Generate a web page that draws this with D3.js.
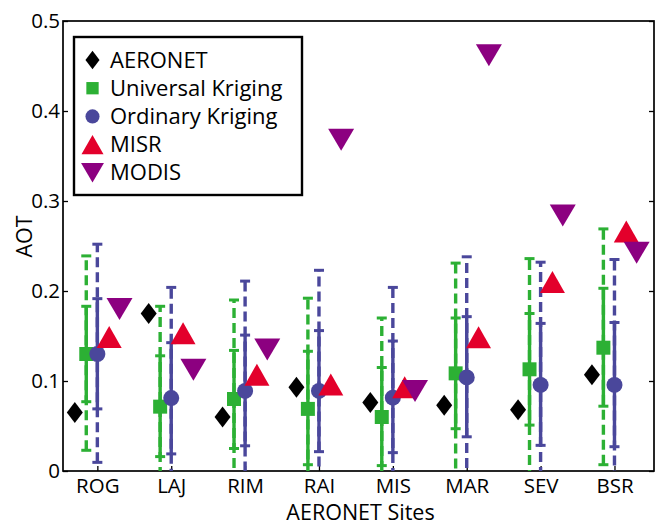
<!DOCTYPE html>
<html>
<head>
<meta charset="utf-8">
<script src="https://cdn.jsdelivr.net/npm/d3@7/dist/d3.min.js"></script>
<style>
  html, body { margin: 0; padding: 0; background: #ffffff; }
  svg { display: block; font-family: "Open Sans", "DejaVu Sans", sans-serif; }
</style>
</head>
<body>
<div id="chart"></div>
<script>
// AERONET sites along the x axis
const sites = ["ROG", "LAJ", "RIM", "RAI", "MIS", "MAR", "SEV", "BSR"];

// Ground-truth AOT at each site
const aeronet = [0.065, 0.175, 0.060, 0.093, 0.076, 0.073, 0.068, 0.107];

// Universal Kriging: estimate, inner (solid) and outer (dashed) intervals
const ukMean    = [0.130, 0.0715, 0.080, 0.069, 0.060, 0.1085, 0.113, 0.137];
const ukInnerLo = [0.077, 0.016, 0.025, 0.007, 0.006, 0.047, 0.051, 0.072];
const ukInnerHi = [0.183, 0.128, 0.134, 0.133, 0.115, 0.170, 0.175, 0.203];
const ukOuterLo = [0.023, -0.040, -0.030, -0.054, -0.050, -0.014, -0.010, 0.007];
const ukOuterHi = [0.239, 0.183, 0.190, 0.192, 0.170, 0.231, 0.236, 0.269];

// Ordinary Kriging: estimate, inner (solid) and outer (dashed) intervals
const okMean    = [0.130, 0.081, 0.089, 0.089, 0.0815, 0.104, 0.0956, 0.0956];
const okInnerLo = [0.069, 0.019, 0.028, 0.0215, 0.0204, 0.038, 0.0285, 0.027];
const okInnerHi = [0.1915, 0.1426, 0.151, 0.156, 0.1444, 0.1715, 0.164, 0.165];
const okOuterLo = [0.0096, -0.042, -0.034, -0.045, -0.041, -0.030, -0.040, -0.044];
const okOuterHi = [0.252, 0.204, 0.211, 0.223, 0.204, 0.238, 0.232, 0.235];

// Satellite retrievals
const misr  = [0.149, 0.153, 0.107, 0.096, 0.093, 0.1485, 0.210, 0.266];
const modis = [0.180, 0.1126, 0.135, 0.368, 0.089, 0.462, 0.284, 0.2426];

// Axis ticks
const yTickValues = [0, 0.1, 0.2, 0.3, 0.4, 0.5];
const yTickLabels = ["0", "0.1", "0.2", "0.3", "0.4", "0.5"];

const legendLabels = ["AERONET", "Universal Kriging", "Ordinary Kriging", "MISR", "MODIS"];

const COLORS = {
  aeronet: "#000000",
  uk: "#2cb034",
  ok: "#4a479b",
  misr: "#e3002b",
  modis: "#8c0080"
};

const width = 658, height = 529;
const plot = { left: 63, right: 654, top: 21, bottom: 471 };

const svg = d3.select("#chart").append("svg")
  .attr("width", width).attr("height", height);

const x = d3.scaleLinear().domain([0.535, 8.535]).range([plot.left, plot.right]);
const y = d3.scaleLinear().domain([0, 0.5]).range([plot.bottom, plot.top]);

svg.append("defs").append("clipPath").attr("id", "plotClip")
  .append("rect")
  .attr("x", plot.left).attr("y", plot.top)
  .attr("width", plot.right - plot.left).attr("height", plot.bottom - plot.top);

// Horizontal offsets (in category units) for each series within a site
const offset = { aeronet: -0.305, uk: -0.15, ok: 0, misr: 0.16, modis: 0.3 };

// ---- Axes ----
const tickFont = 20.5;
const yAxis = d3.axisLeft(y).tickValues(yTickValues)
  .tickFormat((d, i) => yTickLabels[i]).tickSize(-5).tickPadding(3);
const gy = svg.append("g").attr("transform", `translate(${plot.left},0)`).call(yAxis);
gy.select(".domain").remove();
gy.selectAll("text").attr("font-size", tickFont).attr("fill", "#000")
  .attr("font-family", "'Open Sans', sans-serif");
gy.selectAll("line").attr("stroke", "#000").attr("stroke-width", 1.3);

const yAxisR = d3.axisRight(y).tickValues(yTickValues).tickFormat("").tickSize(-5);
const gyr = svg.append("g").attr("transform", `translate(${plot.right},0)`).call(yAxisR);
gyr.select(".domain").remove();
gyr.selectAll("line").attr("stroke", "#000").attr("stroke-width", 1.3);

const xAxis = d3.axisBottom(x).tickValues(d3.range(1, sites.length + 1))
  .tickFormat(i => sites[i - 1]).tickSize(-5).tickPadding(4);
const gx = svg.append("g").attr("transform", `translate(0,${plot.bottom})`).call(xAxis);
gx.select(".domain").remove();
gx.selectAll("line").attr("stroke", "#000").attr("stroke-width", 1.3);
gx.selectAll("text").attr("font-size", tickFont).attr("fill", "#000")
  .attr("font-family", "'Open Sans', sans-serif")
  .attr("dy", null).attr("y", 22);

// Frame
svg.append("rect")
  .attr("x", plot.left).attr("y", plot.top)
  .attr("width", plot.right - plot.left).attr("height", plot.bottom - plot.top)
  .attr("fill", "none").attr("stroke", "#000").attr("stroke-width", 1.7);

// Axis titles
svg.append("text")
  .attr("x", (plot.left + plot.right) / 2 + 2).attr("y", 520)
  .attr("text-anchor", "middle").attr("font-size", 21.5).text("AERONET Sites");
svg.append("text")
  .attr("transform", `translate(31.5,236.5) rotate(-90)`)
  .attr("text-anchor", "middle").attr("font-size", 21.5).text("AOT");

// ---- Error bars ----
const layer = svg.append("g").attr("clip-path", "url(#plotClip)");
const capHalf = 5;

function errorBars(lo, hi, off, color, dashed) {
  const g = layer.append("g");
  sites.forEach((s, i) => {
    const cx = x(i + 1 + off);
    g.append("line")
      .attr("x1", cx).attr("x2", cx)
      .attr("y1", y(lo[i])).attr("y2", y(hi[i]))
      .attr("stroke", color).attr("stroke-width", 3.4)
      .attr("stroke-dasharray", dashed ? "10,5" : null);
    [lo[i], hi[i]].forEach(v => {
      g.append("line")
        .attr("x1", cx - capHalf).attr("x2", cx + capHalf)
        .attr("y1", y(v)).attr("y2", y(v))
        .attr("stroke", color).attr("stroke-width", 3);
    });
  });
}

errorBars(ukOuterLo, ukOuterHi, offset.uk, COLORS.uk, true);
errorBars(okOuterLo, okOuterHi, offset.ok, COLORS.ok, true);
errorBars(ukInnerLo, ukInnerHi, offset.uk, COLORS.uk, false);
errorBars(okInnerLo, okInnerHi, offset.ok, COLORS.ok, false);

// ---- Marker shapes ----
const shapes = {
  diamond: (cx, cy, k) => { const w = 8 * k, h = 10.5 * k;
    return `M${cx},${cy - h}L${cx + w},${cy}L${cx},${cy + h}L${cx - w},${cy}Z`; },
  square: (cx, cy, k) => { const a = 7 * k;
    return `M${cx - a},${cy - a}H${cx + a}V${cy + a}H${cx - a}Z`; },
  circle: (cx, cy, k) => { const r = 8 * k;
    return `M${cx - r},${cy}A${r},${r} 0 1,0 ${cx + r},${cy}A${r},${r} 0 1,0 ${cx - r},${cy}Z`; },
  up: (cx, cy, k) => { const w = 12.5 * k, h = 11 * k;
    return `M${cx},${cy - h}L${cx + w},${cy + h}L${cx - w},${cy + h}Z`; },
  down: (cx, cy, k) => { const w = 13 * k, h = 11 * k;
    return `M${cx - w},${cy - h}L${cx + w},${cy - h}L${cx},${cy + h}Z`; }
};

const series = [
  { values: aeronet, off: offset.aeronet, shape: "diamond", color: COLORS.aeronet },
  { values: ukMean,  off: offset.uk,      shape: "square",  color: COLORS.uk },
  { values: okMean,  off: offset.ok,      shape: "circle",  color: COLORS.ok },
  { values: misr,    off: offset.misr,    shape: "up",      color: COLORS.misr },
  { values: modis,   off: offset.modis,   shape: "down",    color: COLORS.modis }
];

series.forEach(sr => {
  svg.append("g").selectAll("path").data(sr.values).join("path")
    .attr("d", (v, i) => shapes[sr.shape](x(i + 1 + sr.off), y(v), 1))
    .attr("fill", sr.color);
});

// ---- Legend ----
const lg = svg.append("g");
lg.append("rect").attr("x", 74).attr("y", 37).attr("width", 228).attr("height", 158)
  .attr("fill", "#fff").attr("stroke", "#000").attr("stroke-width", 2.4);
series.forEach((sr, i) => {
  const cy = 60 + i * 28.2;
  lg.append("path").attr("d", shapes[sr.shape](92.5, cy, 0.88)).attr("fill", sr.color);
  lg.append("text").attr("x", 110).attr("y", cy + 7.5)
    .attr("font-size", 22).text(legendLabels[i]);
});
</script>
</body>
</html>
